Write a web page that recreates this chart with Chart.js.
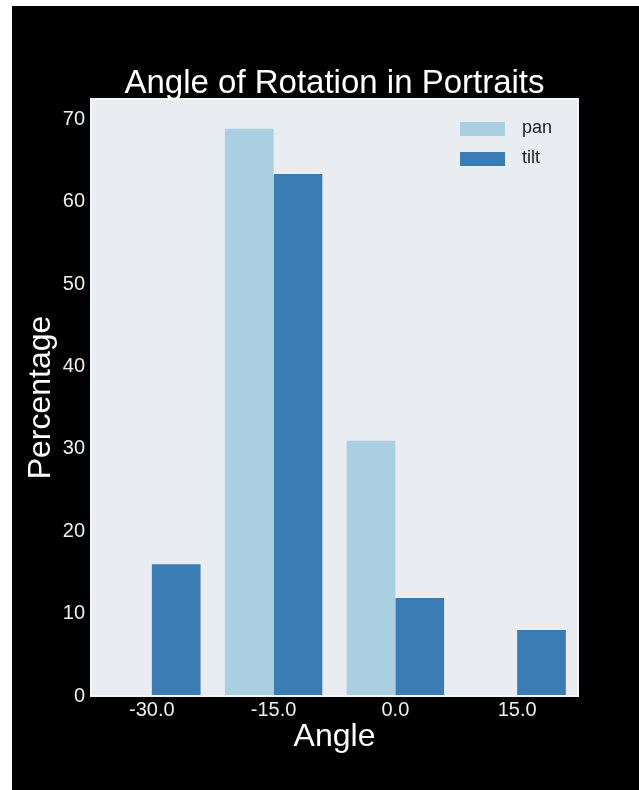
<!DOCTYPE html>
<html>
<head>
<meta charset="utf-8">
<script src="https://cdn.jsdelivr.net/npm/chart.js@4.4.1/dist/chart.umd.min.js"></script>
<style>
  html, body { margin: 0; padding: 0; background: #fff; }
  #frame { position: absolute; left: 12px; top: 6px; width: 627px; height: 784px; background: #000; }
</style>
</head>
<body>
<div id="frame"><canvas id="chart" width="627" height="784"></canvas></div>
<script>
const chartTitle = "Angle of Rotation in Portraits";
const angles = ["-30.0", "-15.0", "0.0", "15.0"];
const panValues = [0, 68.9, 31.0, 0];
const tiltValues = [16.0, 63.4, 11.9, 8.0];
const yTicks = [0, 10, 20, 30, 40, 50, 60, 70];

const FONT = "'Liberation Sans', Arial, sans-serif";

// plot background + white frame, like the seaborn style
const plotBackground = {
  id: "plotBackground",
  beforeDatasetsDraw(chart) {
    const { ctx, chartArea: a } = chart;
    ctx.save();
    ctx.fillStyle = "#e9ecf1";
    ctx.fillRect(a.left, a.top, a.right - a.left, a.bottom - a.top);
    ctx.restore();
  },
  afterDatasetsDraw(chart) {
    const { ctx, chartArea: a } = chart;
    ctx.save();
    ctx.strokeStyle = "#f4f5f8";
    ctx.lineWidth = 2;
    ctx.strokeRect(a.left, a.top, a.right - a.left, a.bottom - a.top);
    ctx.restore();
  },
};

// title centred over the plot area, not the whole canvas
const plotTitle = {
  id: "plotTitle",
  afterDraw(chart) {
    const { ctx, chartArea: a } = chart;
    ctx.save();
    ctx.font = "33px " + FONT;
    ctx.fillStyle = "#fff";
    ctx.textAlign = "center";
    ctx.textBaseline = "alphabetic";
    ctx.fillText(chartTitle, (a.left + a.right) / 2, a.top - 6);
    ctx.restore();
  },
};

// legend in the upper right corner, inside the plot
const innerLegend = {
  id: "innerLegend",
  afterDraw(chart) {
    const { ctx, chartArea: a } = chart;
    ctx.save();
    ctx.font = "18px " + FONT;
    ctx.textBaseline = "middle";
    chart.data.datasets.forEach((ds, i) => {
      const x = a.right - 118;
      const y = a.top + 23 + i * 30;
      ctx.fillStyle = ds.backgroundColor;
      ctx.fillRect(x, y, 45, 14);
      ctx.fillStyle = "#222";
      ctx.fillText(ds.label, x + 62, y + 6);
    });
    ctx.restore();
  },
};

new Chart(document.getElementById("chart"), {
  type: "bar",
  data: {
    labels: angles,
    datasets: [
      { label: "pan", data: panValues, backgroundColor: "#a9cfe0", categoryPercentage: 0.8, barPercentage: 1.0 },
      { label: "tilt", data: tiltValues, backgroundColor: "#3b7cb4", categoryPercentage: 0.8, barPercentage: 1.0 },
    ],
  },
  options: {
    responsive: false,
    animation: false,
    layout: { padding: { top: 93, right: 61, bottom: 0, left: 0 } },
    plugins: {
      legend: { display: false },
      tooltip: { enabled: false },
      title: { display: false },
    },
    scales: {
      x: {
        grid: { display: false, drawTicks: false },
        border: { display: false },
        ticks: { color: "#eee", font: { family: FONT, size: 20 }, padding: 2 },
        title: {
          display: true,
          text: "Angle",
          color: "#fff",
          font: { family: FONT, size: 32 },
          padding: { top: 0, bottom: 34 },
        },
        afterFit(scale) { scale.height = 94; },
      },
      y: {
        min: 0,
        max: 72.5,
        grid: { display: false, drawTicks: false },
        border: { display: false },
        afterBuildTicks(scale) { scale.ticks = yTicks.map(v => ({ value: v })); },
        ticks: { color: "#eee", font: { family: FONT, size: 20 }, padding: 6 },
        title: {
          display: true,
          text: "Percentage",
          color: "#fff",
          font: { family: FONT, size: 32 },
          padding: { top: 10, bottom: 0 },
        },
        afterFit(scale) { scale.width = 79; },
      },
    },
  },
  plugins: [plotBackground, plotTitle, innerLegend],
});
</script>
</body>
</html>
